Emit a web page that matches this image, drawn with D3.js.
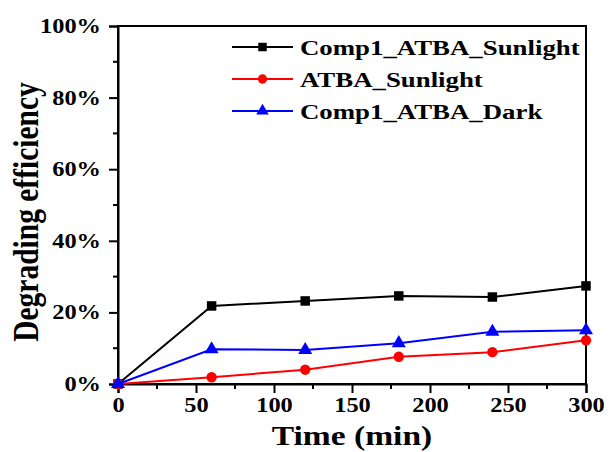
<!DOCTYPE html>
<html>
<head>
<meta charset="utf-8">
<script src="https://cdn.jsdelivr.net/npm/d3@7/dist/d3.min.js"></script>
<style>
  html, body { margin: 0; padding: 0; background: #fff; }
  svg { display: block; }
  text { font-family: "Liberation Serif", "Times New Roman", serif; font-weight: bold; }
</style>
</head>
<body>
<svg id="chart" width="609" height="452"></svg>
<script>
// Sampling times (min)
const times = [0, 60, 120, 180, 240, 300];
// Degrading efficiency (%) per condition
const comp1Sunlight = [0, 21.8, 23.2, 24.6, 24.3, 27.4];
const atbaSunlight = [0, 1.9, 4.0, 7.6, 8.9, 12.2];
const comp1Dark = [0, 9.7, 9.5, 11.4, 14.6, 15.0];
const seriesNames = ["Comp1_ATBA_Sunlight", "ATBA_Sunlight", "Comp1_ATBA_Dark"];
const xTicks = [0, 50, 100, 150, 200, 250, 300];
const yTicks = [0, 20, 40, 60, 80, 100];

const series = [
  { name: seriesNames[0], values: comp1Sunlight, color: "#000000", symbol: d3.symbolSquare, size: 90 },
  { name: seriesNames[1], values: atbaSunlight, color: "#ff0000", symbol: d3.symbolCircle, size: 85 },
  { name: seriesNames[2], values: comp1Dark, color: "#0000ff", symbol: d3.symbolTriangle, size: 85 }
];

// Glyphs are drawn slightly wide
const stretch = 1.22;

const svg = d3.select("#chart");
const m = { left: 118, right: 586, top: 26, bottom: 384 };

const x = d3.scaleLinear().domain([0, 300]).range([m.left, m.right]);
const y = d3.scaleLinear().domain([0, 100]).range([m.bottom, m.top]);

// Frame
svg.append("rect")
  .attr("x", m.left).attr("y", m.top)
  .attr("width", m.right - m.left).attr("height", m.bottom - m.top)
  .attr("fill", "none").attr("stroke", "#000").attr("stroke-width", 2);

// Minor ticks
const xMinor = d3.range(25, 300, 50);
const yMinor = d3.range(10, 100, 20);
svg.append("g").selectAll("line").data(xMinor).join("line")
  .attr("x1", d => x(d)).attr("x2", d => x(d))
  .attr("y1", m.bottom).attr("y2", m.bottom + 5)
  .attr("stroke", "#000").attr("stroke-width", 2);
svg.append("g").selectAll("line").data(yMinor).join("line")
  .attr("y1", d => y(d)).attr("y2", d => y(d))
  .attr("x1", m.left).attr("x2", m.left - 5)
  .attr("stroke", "#000").attr("stroke-width", 2);

// Axes
const xAxis = svg.append("g")
  .attr("transform", `translate(0,${m.bottom})`)
  .call(d3.axisBottom(x).tickValues(xTicks).tickSize(9).tickPadding(4).tickFormat(d3.format("d")));
const yAxis = svg.append("g")
  .attr("transform", `translate(${m.left},0)`)
  .call(d3.axisLeft(y).tickValues(yTicks).tickSize(9).tickPadding(4).tickFormat(d => d + "%"));

[xAxis, yAxis].forEach(g => {
  g.select(".domain").attr("stroke-width", 2);
  g.selectAll(".tick line").attr("stroke-width", 2);
  g.selectAll(".tick text")
    .attr("fill", "#000")
    .style("font-family", "'Liberation Serif', serif")
    .style("font-weight", "bold")
    .style("font-size", "20px");
});
xAxis.selectAll(".tick text")
  .attr("dy", "0.75em")
  .attr("transform", `scale(${stretch},1)`);
yAxis.selectAll(".tick text")
  .attr("x", null)
  .attr("transform", `translate(-17,0) scale(${stretch},1)`);

// Axis titles
svg.append("text")
  .attr("transform", `translate(${(m.left + m.right) / 2},445) scale(${stretch},1)`)
  .attr("text-anchor", "middle")
  .style("font-size", "27.5px")
  .text("Time (min)");
svg.append("text")
  .attr("transform", `translate(38,212) scale(${stretch},1) rotate(-90)`)
  .attr("text-anchor", "middle")
  .style("font-size", "29.5px")
  .text("Degrading efficiency");

// Lines and markers
const line = d3.line().x((d, i) => x(times[i])).y(d => y(d));
series.forEach(s => {
  svg.append("path")
    .datum(s.values)
    .attr("d", line)
    .attr("fill", "none")
    .attr("stroke", s.color)
    .attr("stroke-width", 2);
  svg.append("g").selectAll("path").data(s.values).join("path")
    .attr("transform", (d, i) => `translate(${x(times[i])},${y(d)})`)
    .attr("d", d3.symbol().type(s.symbol).size(s.size))
    .attr("fill", s.color);
});

// Legend
const legend = svg.append("g");
series.forEach((s, i) => {
  const ly = 47 + i * 32;
  const row = legend.append("g");
  row.append("line")
    .attr("x1", 232).attr("x2", 293)
    .attr("y1", ly).attr("y2", ly)
    .attr("stroke", s.color).attr("stroke-width", 2);
  row.append("path")
    .attr("transform", `translate(262.5,${ly})`)
    .attr("d", d3.symbol().type(s.symbol).size(s.size * 0.8))
    .attr("fill", s.color);
  row.append("text")
    .attr("transform", `translate(300,${ly}) scale(${stretch},1)`)
    .attr("dy", "0.35em")
    .style("font-size", "22px")
    .text(s.name);
});
</script>
</body>
</html>
